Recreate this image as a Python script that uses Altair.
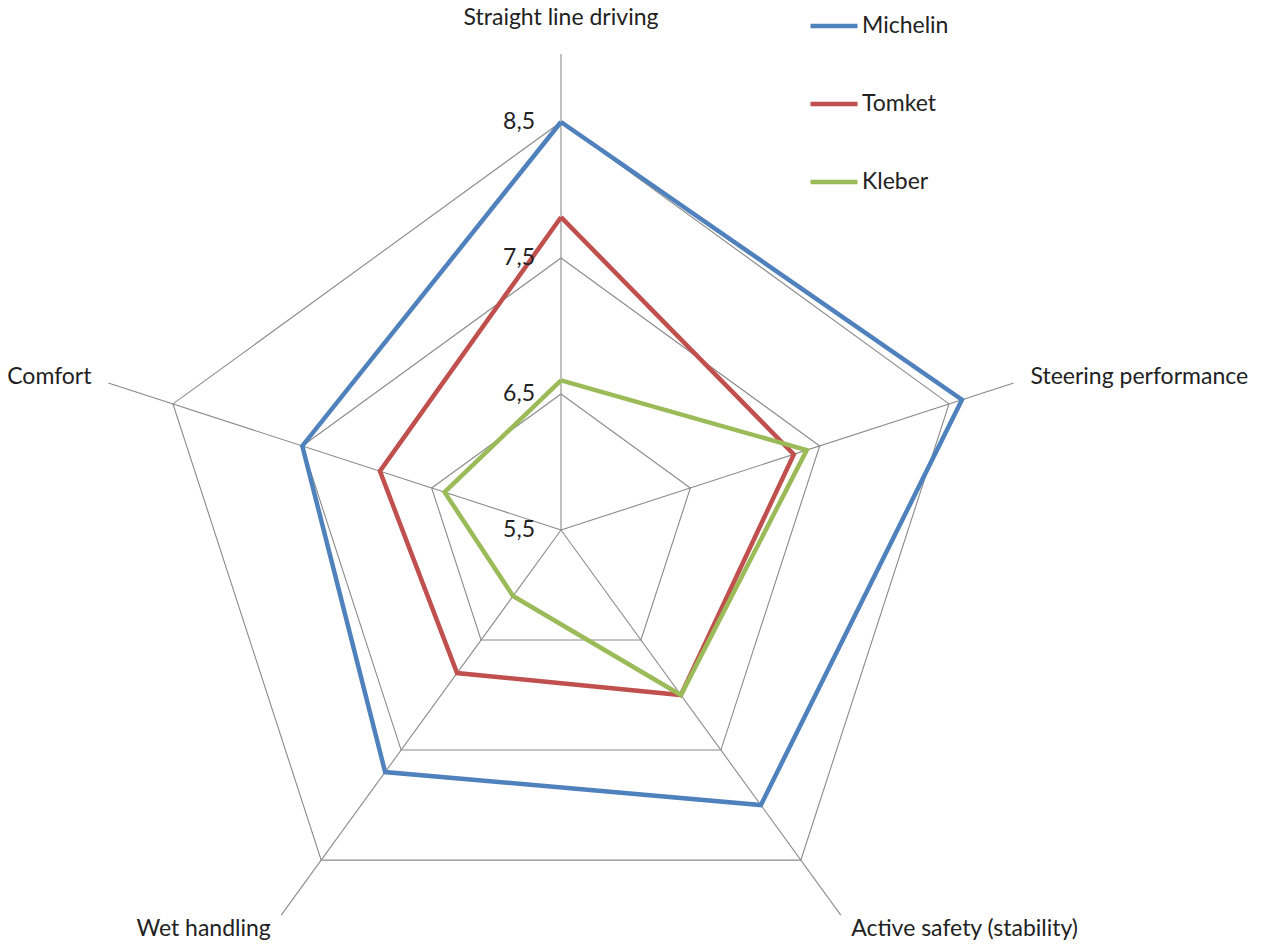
import altair as alt
import pandas as pd
import numpy as np

# ---- data ----
categories = ["Straight line driving", "Steering performance",
              "Active safety (stability)", "Wet handling", "Comfort"]
series = ["Michelin", "Tomket", "Kleber"]
michelin = [8.5, 8.6, 8.0, 7.7, 7.5]
tomket = [7.8, 7.3, 7.0, 6.8, 6.9]
kleber = [6.6, 7.4, 7.0, 6.1, 6.4]
colors = ["#4F81BD", "#C0504D", "#9BBB59"]
grid_values = [6.5, 7.5, 8.5]
tick_values = [5.5, 6.5, 7.5, 8.5]
tick_labels = ["5,5", "6,5", "7,5", "8,5"]
axis_min = 5.5
spoke_max = 9.0

FONT = "Lato"
FS = 23
n = len(categories)
ang = np.deg2rad(90 - 360.0 / n * np.arange(n))

def polar(v, i):
    r = v - axis_min
    return r * np.cos(ang[i]), r * np.sin(ang[i])

# series polygons
rows = []
for s, vals in zip(series, [michelin, tomket, kleber]):
    for k in range(n + 1):
        i = k % n
        x, y = polar(vals[i], i)
        rows.append({"series": s, "cat": categories[i], "value": vals[i], "x": x, "y": y, "o": k})
df = pd.DataFrame(rows)

# grid rings
grows = []
for g in grid_values:
    for k in range(n + 1):
        i = k % n
        x, y = polar(g, i)
        grows.append({"ring": g, "x": x, "y": y, "o": k})
gdf = pd.DataFrame(grows)

# spokes
srows = []
for i in range(n):
    x, y = polar(spoke_max, i)
    srows.append({"x0": 0.0, "y0": 0.0, "x": x, "y": y})
sdf = pd.DataFrame(srows)

# category labels
label_r = 3.63
lrows = []
for i, c in enumerate(categories):
    cx, cy = np.cos(ang[i]), np.sin(ang[i])
    al = "left" if cx > 0.1 else ("right" if cx < -0.1 else "center")
    lrows.append({"cat": c, "x": label_r * cx, "y": label_r * cy, "al": al})
ldf = pd.DataFrame(lrows)

# tick labels
tdf = pd.DataFrame({"lab": tick_labels, "x": [0.0] * len(tick_values),
                    "y": [v - axis_min for v in tick_values]})

# ---- scales (136 px per unit, center at 561,530) ----
W, H = 1261, 946
ppu = 136.0
cxp, cyp = 561.0, 530.0
xs = alt.Scale(domain=[-cxp / ppu, (W - cxp) / ppu], nice=False, zero=False)
ys = alt.Scale(domain=[-(H - cyp) / ppu, cyp / ppu], nice=False, zero=False)
X = lambda f: alt.X(f, type="quantitative", scale=xs, axis=None)
Y = lambda f: alt.Y(f, type="quantitative", scale=ys, axis=None)

grid_color = "#8a8a8a"

spokes = alt.Chart(sdf).mark_rule(color=grid_color, strokeWidth=1.1).encode(
    x=X("x0"), y=Y("y0"), x2="x", y2="y")

rings = alt.Chart(gdf).mark_line(color=grid_color, strokeWidth=1.1).encode(
    x=X("x"), y=Y("y"), detail="ring:N", order="o:Q")

color = alt.Color("series:N",
                  scale=alt.Scale(domain=series, range=colors),
                  legend=alt.Legend(orient="none", legendX=808, legendY=0, title=None,
                                    symbolType="stroke", symbolSize=2209,
                                    symbolStrokeWidth=4.5, labelFont=FONT,
                                    labelFontSize=FS, labelColor="#222222",
                                    rowPadding=40, labelOffset=2, padding=0,
                                    symbolOpacity=1))

lines = [
    alt.Chart(df).transform_filter(alt.datum.series == s).mark_line(
        strokeWidth=4.5, strokeJoin="miter").encode(
        x=X("x"), y=Y("y"), color=color, order="o:Q")
    for s in series
]

def cat_text(al, dy=0):
    return alt.Chart(ldf).transform_filter(alt.datum.al == al).mark_text(
        align=al, baseline="middle", font=FONT, fontSize=FS, color="#222222", dy=dy
    ).encode(x=X("x"), y=Y("y"), text="cat:N")

cat_labels = [cat_text("center", dy=-18), cat_text("left"), cat_text("right")]

ticks = alt.Chart(tdf).mark_text(align="right", baseline="middle", dx=-26,
                                 font=FONT, fontSize=FS, color="#222222").encode(
    x=X("x"), y=Y("y"), text="lab:N")

chart = alt.layer(spokes, rings, *lines, *cat_labels, ticks).properties(
    width=W, height=H, padding=0, autosize=alt.AutoSizeParams(type="none"),
    background="white"
).configure_view(stroke=None)

chart.save("out.html", embed_options={"renderer": "svg", "actions": False})
